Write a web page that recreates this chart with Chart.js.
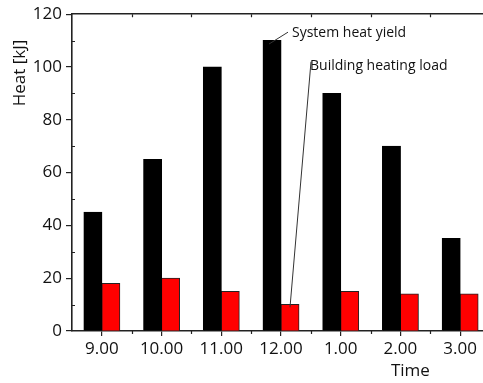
<!DOCTYPE html>
<html>
<head>
<meta charset="utf-8">
<script src="https://cdn.jsdelivr.net/npm/chart.js@4.4.0/dist/chart.umd.min.js"></script>
<style>
html, body { margin: 0; padding: 0; background: #fff; overflow: hidden; }
#wrap { width: 490px; height: 383px; }
</style>
</head>
<body>
<div id="wrap"><canvas id="heat_chart" width="490" height="383"></canvas></div>
<script>
var timeLabels = ['9.00', '10.00', '11.00', '12.00', '1.00', '2.00', '3.00'];
var systemHeatYield = [45, 65, 100, 110, 90, 70, 35];
var buildingHeatingLoad = [18, 20, 15, 10, 15, 14, 14];
var yMajorTicks = [0, 20, 40, 60, 80, 100, 120];
var yMinorTicks = [10, 30, 50, 70, 90, 110];

var fontFamily = "'Open Sans', sans-serif";
var axisColor = '#222';
var textColor = '#111';

/* extra axis decorations + labels */
var decorPlugin = {
    id: 'decor',
    afterDraw: function (chart) {
        var ctx = chart.ctx;
        var area = chart.chartArea;
        var x = chart.scales.x;
        var y = chart.scales.y;
        var half = (x.getPixelForValue(1) - x.getPixelForValue(0)) / 2;

        ctx.save();
        ctx.strokeStyle = axisColor;
        ctx.lineWidth = 1.2;
        ctx.beginPath();
        // inward minor y ticks
        yMinorTicks.forEach(function (v) {
            var py = Math.round(y.getPixelForValue(v)) + 0.5;
            ctx.moveTo(area.left, py);
            ctx.lineTo(area.left + 3, py);
        });
        // category boundary ticks, bottom (outward) and top (inward)
        for (var i = 0; i < timeLabels.length; i++) {
            var px = Math.round(x.getPixelForValue(i) + half) + 0.5;
            ctx.moveTo(px, area.bottom);
            ctx.lineTo(px, area.bottom + 3);
            ctx.moveTo(px, area.top);
            ctx.lineTo(px, area.top + 3);
        }
        ctx.stroke();

        // annotation leader lines
        var c = x.getPixelForValue(3);
        ctx.lineWidth = 1;
        ctx.strokeStyle = '#333';
        ctx.beginPath();
        ctx.moveTo(c - 12, y.getPixelForValue(108.7));
        ctx.lineTo(c + 7, y.getPixelForValue(113.2));
        ctx.moveTo(c + 30, y.getPixelForValue(102));
        ctx.lineTo(c + 9, y.getPixelForValue(9));
        ctx.stroke();

        ctx.fillStyle = textColor;
        ctx.textBaseline = 'alphabetic';
        ctx.textAlign = 'left';
        ctx.font = '14px ' + fontFamily;
        ctx.fillText('System heat yield', c + 11, y.getPixelForValue(111.4));
        ctx.fillText('Building heating load', c + 29, y.getPixelForValue(99));

        // axis titles
        ctx.font = '17px ' + fontFamily;
        ctx.textAlign = 'center';
        ctx.textBaseline = 'middle';
        ctx.fillText('Time', x.getPixelForValue(5) + 10, 371);
        ctx.translate(20, 73);
        ctx.rotate(-Math.PI / 2);
        ctx.fillText('Heat [kJ]', 0, 0);
        ctx.restore();
    }
};

var ctx = document.getElementById('heat_chart');
var chart = new Chart(ctx, {
    type: 'bar',
    data: {
        labels: timeLabels,
        datasets: [
            {
                label: 'System heat yield',
                data: systemHeatYield,
                backgroundColor: '#000',
                borderColor: '#000',
                borderWidth: 1
            },
            {
                label: 'Building heating load',
                data: buildingHeatingLoad,
                backgroundColor: '#ff0000',
                borderColor: '#222',
                borderWidth: 1
            }
        ]
    },
    options: {
        responsive: false,
        animation: false,
        devicePixelRatio: 1,
        layout: {
            padding: { top: 12, left: 0, right: 0, bottom: 0 }
        },
        plugins: {
            legend: { display: false },
            tooltip: { enabled: false }
        },
        datasets: {
            bar: {
                barPercentage: 1,
                categoryPercentage: 0.6,
                inflateAmount: 0.5
            }
        },
        scales: {
            x: {
                position: 'bottom',
                offset: true,
                grid: {
                    offset: false,
                    drawOnChartArea: false,
                    drawTicks: true,
                    tickLength: 5,
                    color: axisColor,
                    lineWidth: 1.2
                },
                border: { display: true, color: axisColor, width: 1.6 },
                ticks: {
                    color: textColor,
                    padding: 3,
                    maxRotation: 0,
                    font: { family: fontFamily, size: 17 }
                },
                afterFit: function (scale) { scale.height = 52; }
            },
            xTop: {
                position: 'top',
                type: 'category',
                labels: timeLabels,
                grid: { display: false, drawTicks: false },
                border: { display: true, color: axisColor, width: 1.6 },
                ticks: { display: false },
                afterFit: function (scale) { scale.height = 0; }
            },
            y: {
                min: 0,
                max: 120,
                afterBuildTicks: function (scale) {
                    scale.ticks = yMajorTicks.map(function (v) { return { value: v }; });
                },
                grid: {
                    drawOnChartArea: false,
                    drawTicks: true,
                    tickLength: 6,
                    color: axisColor,
                    lineWidth: 1.2
                },
                border: { display: true, color: axisColor, width: 1.6 },
                ticks: {
                    color: textColor,
                    padding: 4,
                    font: { family: fontFamily, size: 17 }
                },
                afterFit: function (scale) { scale.width = 72; }
            }
        }
    },
    plugins: [decorPlugin]
});
</script>
</body>
</html>
